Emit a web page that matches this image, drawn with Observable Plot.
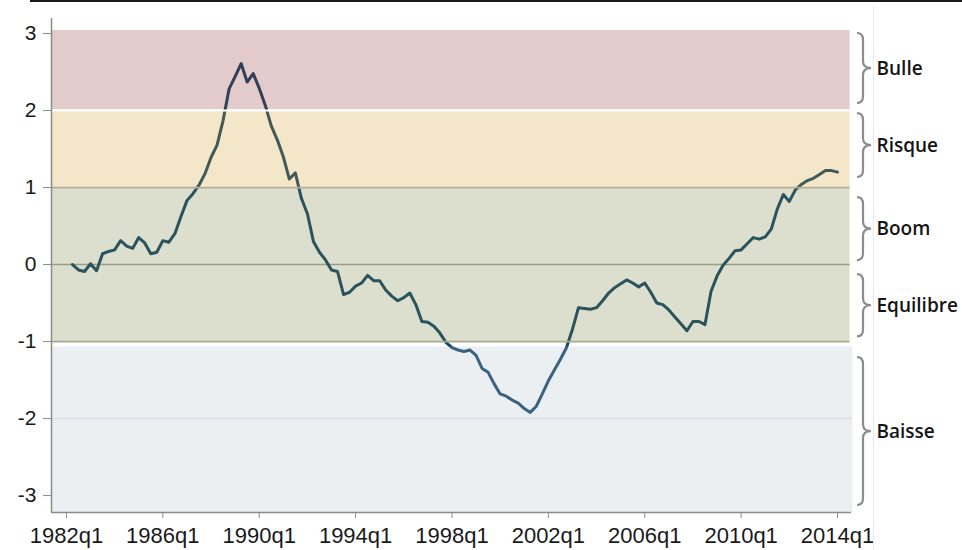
<!DOCTYPE html>
<html><head><meta charset="utf-8">
<script src="https://cdn.jsdelivr.net/npm/d3@7"></script>
<script src="https://cdn.jsdelivr.net/npm/@observablehq/plot@0.6"></script>
<style>
html,body{margin:0;padding:0;background:#fff;}
#wrap{position:relative;width:962px;height:550px;overflow:hidden;}
#topline{position:absolute;left:30px;top:0;width:932px;height:2px;background:#1a1a1a;}
#vline{position:absolute;left:873px;top:6px;width:1px;height:544px;background:#e4ebf1;}
svg{display:block}
</style></head><body>
<div id="wrap"><div id="chart"></div><div id="topline"></div><div id="vline"></div></div>
<script>
// Quarterly index values, 1982q2 .. 2014q1
const values = [
  0.00, -0.07, -0.09,
  0.01, -0.08, 0.14, 0.17,
  0.19, 0.31, 0.24, 0.21,
  0.35, 0.28, 0.14, 0.16,
  0.31, 0.29, 0.40, 0.62,
  0.83, 0.92, 1.03, 1.18,
  1.39, 1.55, 1.87, 2.28,
  2.44, 2.61, 2.37, 2.48,
  2.29, 2.07, 1.80, 1.62,
  1.40, 1.11, 1.19, 0.86,
  0.66, 0.30, 0.16, 0.06,
  -0.07, -0.09, -0.39, -0.36,
  -0.28, -0.24, -0.14, -0.21,
  -0.21, -0.33, -0.41, -0.47,
  -0.43, -0.37, -0.52, -0.74,
  -0.75, -0.80, -0.89, -1.01,
  -1.08, -1.11, -1.13, -1.11,
  -1.18, -1.35, -1.40, -1.55,
  -1.68, -1.71, -1.76, -1.80,
  -1.87, -1.92, -1.84, -1.68,
  -1.51, -1.37, -1.23, -1.08,
  -0.84, -0.56, -0.57, -0.58,
  -0.56, -0.47, -0.37, -0.30,
  -0.25, -0.20, -0.24, -0.29,
  -0.24, -0.36, -0.50, -0.52,
  -0.59, -0.68, -0.77, -0.86,
  -0.74, -0.74, -0.78, -0.35,
  -0.15, -0.01, 0.08, 0.18,
  0.19, 0.27, 0.35, 0.33,
  0.36, 0.46, 0.72, 0.91,
  0.82, 0.97, 1.04, 1.09,
  1.12, 1.17, 1.22, 1.22,
  1.20
];
const startQuarter = 1982.25; // 1982q2

const xTicks = [1982, 1986, 1990, 1994, 1998, 2002, 2006, 2010, 2014];
const yTicks = [-3, -2, -1, 0, 1, 2, 3];

const bandIds = ["bulle", "risque", "neutre", "baisse"];
const bandLow = [2.01, 1.0, -1.0, -3.22];
const bandHigh = [3.04, 1.99, 1.0, -1.07];

const zoneNames = ["Bulle", "Risque", "Boom", "Equilibre", "Baisse"];
const zoneTop = [3.00, 1.96, 0.87, -0.13, -1.21];
const zoneBottom = [2.09, 1.13, 0.05, -0.94, -3.13];

const xDomain = [1981.38, 2014.58];
const yDomain = [-3.22, 3.195];

const series = values.map((v, i) => ({t: startQuarter + i / 4, v}));
const bands = bandIds.map((id, i) => ({id, lo: bandLow[i], hi: bandHigh[i]}));
const zones = zoneNames.map((name, i) => ({name, top: zoneTop[i], bottom: zoneBottom[i]}));

function braces(index, scales, vals, dims) {
  const g = d3.create("svg:g");
  const right = scales.x(xDomain[1]);
  const x0 = right + 6, xv = right + 12, xt = right + 20, r = 7;
  for (const z of zones) {
    const y1 = scales.y(z.top), y2 = scales.y(z.bottom), ym = (y1 + y2) / 2;
    const p = `M${x0},${y1} Q${xv},${y1} ${xv},${y1 + r} L${xv},${ym - r} Q${xv},${ym} ${xt},${ym} Q${xv},${ym} ${xv},${ym + r} L${xv},${y2 - r} Q${xv},${y2} ${x0},${y2}`;
    g.append("path").attr("d", p).attr("fill", "none").attr("stroke", "#8c8c8c").attr("stroke-width", 2.2);
  }
  return g.node();
}

const chart = Plot.plot({
  width: 962,
  height: 550,
  marginLeft: 51,
  marginRight: 111,
  marginTop: 18,
  marginBottom: 38,
  style: {fontFamily: "'Liberation Sans', Arial, sans-serif", background: "white", color: "#1a1a1a", overflow: "visible"},
  x: {domain: xDomain, label: null},
  y: {domain: yDomain, label: null},
  color: {domain: bandIds, range: ["#8f2f2f", "#cf9b27", "#737f37", "#b3bfcb"]},
  marks: [
    Plot.ruleY([0], {x1: xDomain[0], x2: 2014.52, stroke: "#a6a6a2", strokeWidth: 1.6}),
    Plot.line(series, {x: "t", y: "v", stroke: "#12456a", strokeWidth: 3, curve: "linear", strokeLinejoin: "round"}),
    Plot.rect(bands, {x1: xDomain[0], x2: d => d.id === "baisse" ? 2014.64 : 2014.52, y1: "lo", y2: "hi", fill: "id", fillOpacity: 0.25}),
    Plot.ruleY([1], {x1: xDomain[0], x2: 2014.52, stroke: "#b6ad96", strokeWidth: 1.8}),
    Plot.ruleY([-1], {x1: xDomain[0], x2: 2014.52, stroke: "#a9a993", strokeWidth: 1.8}),
    Plot.ruleY([2], {x1: xDomain[0], x2: 2014.52, stroke: "#ffffff", strokeWidth: 2}),
    Plot.ruleY([-2], {x1: xDomain[0], x2: 2014.64, stroke: "#d8e0e7", strokeWidth: 1.6}),
    Plot.ruleX([xDomain[0]], {stroke: "#8a8a8a", strokeWidth: 1.5}),
    Plot.ruleY([yDomain[0]], {stroke: "#8a8a8a", strokeWidth: 1.5}),
    Plot.axisY({ticks: yTicks, tickSize: 8, tickPadding: 7, fontSize: 21, tickFormat: d => String(d), stroke: "#8a8a8a", fill: "#1a1a1a", label: null}),
    Plot.axisX({ticks: xTicks, tickSize: 6, tickPadding: 9, fontSize: 22, tickFormat: d => d + "q1", stroke: "#8a8a8a", fill: "#1a1a1a", label: null}),
    braces,
    Plot.text(zones, {x: () => xDomain[1], y: d => (d.top + d.bottom) / 2, text: "name", dx: 25, textAnchor: "start", fontFamily: "'Open Sans', sans-serif", fontSize: 19, fontWeight: 600, fill: "#151515"})
  ]
});
document.getElementById("chart").appendChild(chart);
</script>
</body></html>
